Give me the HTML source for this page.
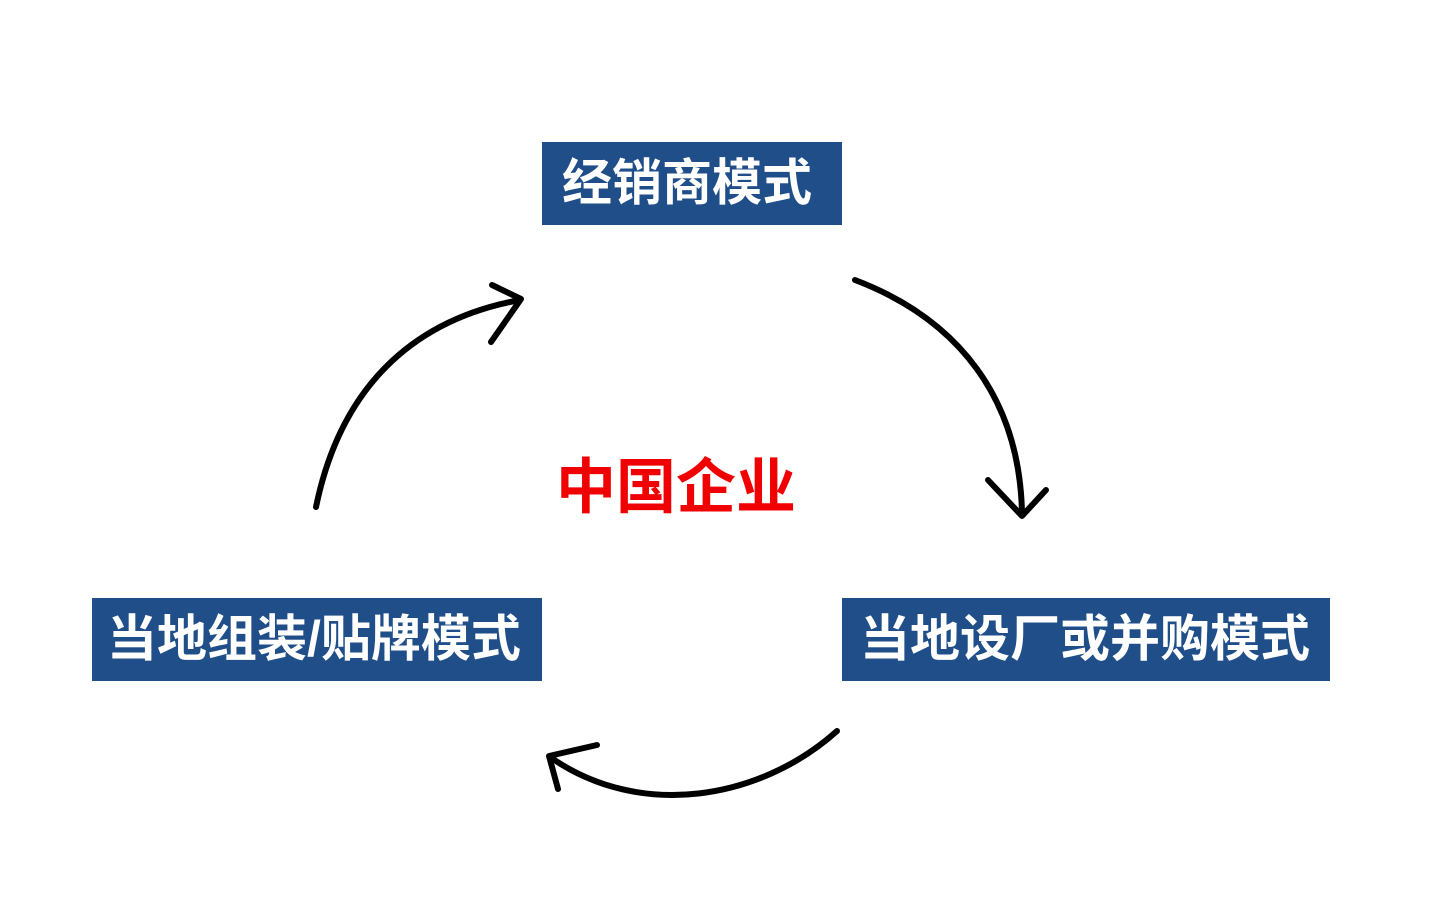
<!DOCTYPE html>
<html><head><meta charset="utf-8"><style>
body{margin:0;width:1438px;height:921px;background:#fff;position:relative;overflow:hidden;font-family:"Liberation Sans","Noto Sans CJK SC",sans-serif;}
.box{position:absolute;background:#1f4e89;color:#fff;font-weight:bold;font-size:50px;line-height:83px;height:83px;white-space:nowrap;box-sizing:border-box;}
.c{position:absolute;color:#f00000;font-weight:bold;font-size:60px;line-height:60px;white-space:nowrap;}
svg{position:absolute;left:0;top:0;}
</style></head><body>
<div class="box" style="left:542px;top:142px;width:300px;padding-left:20px;">经销商模式</div>
<div class="box" style="left:92px;top:598px;width:450px;padding-left:15px;">当地组装/贴牌模式</div>
<div class="box" style="left:842px;top:598px;width:488px;padding-left:18px;">当地设厂或并购模式</div>
<div class="c" style="left:556px;top:458px;">中国企业</div>
<svg width="1438" height="921" fill="none" stroke="#000" stroke-width="6" stroke-linecap="round" stroke-linejoin="round">
<path d="M855 280 C960 320 1020 400 1022 514"/>
<path d="M988 480 L1022 516 L1046 490"/>
<path d="M837 731 C760 800 640 820 550 757"/>
<path d="M597 745 L549 756 L558 789"/>
<path d="M316 507 C340 390 410 320 520 300"/>
<path d="M492 285 L521 299 L491 342"/>
</svg>
</body></html>
